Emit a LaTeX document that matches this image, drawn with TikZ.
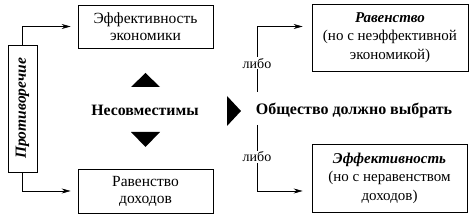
\documentclass[tikz,border=0pt]{standalone}
\usepackage{fontspec}
\setmainfont{Liberation Serif}
\usetikzlibrary{arrows.meta}
\begin{document}
\begin{tikzpicture}[x=1pt,y=-1pt,
  font=\fontsize{15.5}{17}\selectfont,
  box/.style={draw, line width=0.7pt, align=center, inner sep=0pt},
  arr/.style={-{Stealth[length=9pt,width=5pt]}, line width=0.6pt},
  tri/.style={fill=black}]
\useasboundingbox (0,0) rectangle (475,224);
\node[box, minimum width=135, minimum height=43] (eff) at (145.5,26.5) {Эффективность\\экономики};
\node[box, minimum width=135, minimum height=44] (eq) at (145.5,191) {Равенство\\доходов};
\node[box, rotate=90, minimum width=127, minimum height=29, font=\fontsize{15.5}{16}\selectfont\bfseries\itshape] (contr) at (22.5,108.5) {Противоречие};
\node[box, minimum width=156, minimum height=67, font=\fontsize{15}{18.5}\selectfont] (rb1) at (390,37.5) {\textbf{\textit{Равенство}}\\(но с неэффективной\\экономикой)};
\node[box, minimum width=155, minimum height=68, font=\fontsize{15}{18.5}\selectfont] (rb2) at (389.5,178) {\textbf{\textit{Эффективность}}\\(но с неравенством\\доходов)};
\node[font=\fontsize{15.8}{17}\selectfont\bfseries] (incomp) at (145,110) {Несовместимы};
\node[font=\fontsize{16}{17}\selectfont\bfseries] (choose) at (354,110) {Общество должно выбрать};
\fill[tri] (131,87) -- (160,87) -- (145.5,73) -- cycle;
\fill[tri] (131,132) -- (160,132) -- (145.5,147) -- cycle;
\fill[tri] (227,96) -- (241,111) -- (227,126) -- cycle;
\coordinate (c1) at (257,92);
\coordinate (c2) at (257,125);
\draw[arr, shorten >=7pt] (contr.east) |- (eff.west);
\draw[arr, shorten >=7pt] (contr.west) |- (eq.west);
\draw[arr, shorten >=9pt] (c1) |- (rb1.west |- eff.west) node[pos=0.22, fill=white, inner sep=1pt, font=\fontsize{14}{16}\selectfont] (l1) {либо};
\draw[arr, shorten >=9pt] (c2) |- (rb2.west |- eq.west) node[pos=0.24, fill=white, inner sep=1pt, font=\fontsize{14}{16}\selectfont] (l2) {либо};
\end{tikzpicture}
\end{document}
